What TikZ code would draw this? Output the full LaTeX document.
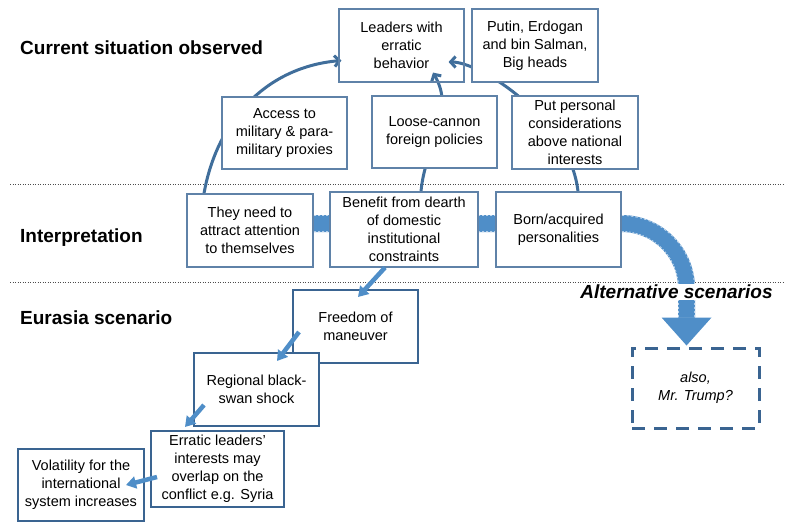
\documentclass[tikz,border=0pt]{standalone}
\usepackage{fontspec}
\setmainfont{Liberation Sans}
\usepackage{tikz}
\usetikzlibrary{arrows.meta}
\usetikzlibrary{backgrounds}
\usetikzlibrary{calc}
\definecolor{boxblue}{RGB}{95,130,168}
\definecolor{stepblue}{RGB}{58,100,145}
\definecolor{linkblue}{RGB}{64,110,155}
\definecolor{bandblue}{RGB}{79,142,200}
\tikzstyle{obs}=[draw=boxblue, line width=1.1pt, fill=white, align=center, inner sep=1pt, font=\fontsize{14.5}{18}\selectfont]
\tikzstyle{scen}=[obs, draw=stepblue, line width=2pt]
\tikzstyle{link}=[draw=linkblue, line width=3pt, -{Straight Barb[length=5pt,width=11pt]}]
\tikzstyle{push}=[draw=bandblue, line width=4.5pt, -{Triangle[length=10pt,width=12pt]}]
\tikzstyle{rowlabel}=[anchor=west, inner sep=0pt, font=\fontsize{19}{22}\selectfont\bfseries]
\tikzstyle{rule}=[line width=0.8pt, draw=black!70, dash pattern=on 1pt off 1.5pt]

\begin{document}
\begin{tikzpicture}[x=1pt,y=-1pt]
\useasboundingbox (0,0) rectangle (790,524);
% row labels
\node[rowlabel] (lcur) at (20,48) {Current situation observed};
\node[rowlabel] (lint) at (20,238) {Interpretation};
\node[rowlabel] (leur) at (20,318) {Eurasia scenario};
% observed
\node[obs, fill=none, minimum width=125, minimum height=73] (leaders) at (401.5,45.5) {Leaders with\\erratic\\behavior};
\node[obs, minimum width=126, minimum height=73] (putin) at (535,45.5) {Putin, Erdogan\\and bin Salman,\\Big heads};
\node[obs, minimum width=125, minimum height=72] (access) at (284.5,133) {Access to\\military \& para-\\military proxies};
\node[obs, minimum width=125, minimum height=72] (loose) at (434.5,132) {Loose-cannon\\foreign policies};
\node[obs, minimum width=126, minimum height=73] (put) at (575,132.5) {Put personal\\considerations\\above national\\interests};
% interpretation
\node[obs, minimum width=126, minimum height=73] (need) at (250,230.5) {They need to\\attract attention\\to themselves};
\node[obs, minimum width=148, minimum height=75] (benefit) at (404,229.5) {Benefit from dearth\\of domestic\\institutional\\constraints};
\node[obs, minimum width=125, minimum height=75] (born) at (558.5,229.5) {Born/acquired\\personalities};
% scenario
\node[scen, minimum width=125, minimum height=73] (freedom) at (355.5,326.5) {Freedom of\\maneuver};
\node[scen, minimum width=125, minimum height=73] (regional) at (256.5,389.5) {Regional black-\\swan shock};
\node[scen, minimum width=133, minimum height=76] (erratic) at (217.5,469) {Erratic leaders'\\interests may\\overlap on the\\conflict e.g. Syria};
\node[scen, minimum width=126, minimum height=72] (volat) at (81,485) {Volatility for the\\international\\system increases};
% alternative
\node[fill=white, inner xsep=5pt, inner ysep=1pt, font=\fontsize{19}{22}\selectfont\bfseries\itshape] (alt) at (676.5,292) {Alternative scenarios};
\node[draw=stepblue, line width=3pt, dash pattern=on 13pt off 9pt, minimum width=127, minimum height=80, align=center, font=\fontsize{14.5}{18}\selectfont\itshape] (trump) at (695.5,388) {also,\\Mr. Trump?};

\begin{scope}[on background layer]
\foreach \y in {184,282}
 \draw[rule] (10,\y) -- (785,\y);
\coordinate (bandstart) at ($(need.center)+(0,-7)$);
\path[save path=\bandpath]
 (bandstart) -- (bandstart -| born.east) arc[start angle=90, end angle=0, radius=65pt] -- ++(0,29) coordinate (stem);
\draw[use path=\bandpath, draw=bandblue, line width=17pt];
\draw[use path=\bandpath, draw=bandblue!35!white, line width=17pt, dash pattern=on 2pt off 2pt];
\draw[use path=\bandpath, draw=bandblue, line width=15pt];
\fill[bandblue] ($(stem)+(-25,0)$) -- ($(stem)+(25,0)$) -- ($(stem)+(0,28)$) -- cycle;
% links up to the leaders box
\draw[link] ($(need.north)+(-46,0)$) to[out=80,in=185] ($(leaders.west)+(3,15)$);
\draw[link] ($(benefit.north)+(17,0)$) to[out=85,in=-60] ($(leaders.south)+(31.5,-10)$);
\draw[link] ($(born.north)+(19.5,0)$) .. controls +(-8,-72) and +(32,0) .. ($(leaders.east)+(-16,16.5)$);
\end{scope}

% scenario chain
\draw[push] ($(benefit.south)+(-19,0)$) -- ($(freedom.north)+(2.5,8)$);
\draw[push] ($(freedom.west)+(7,5.5)$) -- ($(regional.north)+(20.5,9)$);
\draw[push] ($(regional.west)+(11,15.5)$) -- ($(erratic.north)+(-32.5,-3)$);
\draw[push] ($(erratic.west)+(7,8)$) -- ($(volat.east)+(-19,0)$);
\end{tikzpicture}
\end{document}
